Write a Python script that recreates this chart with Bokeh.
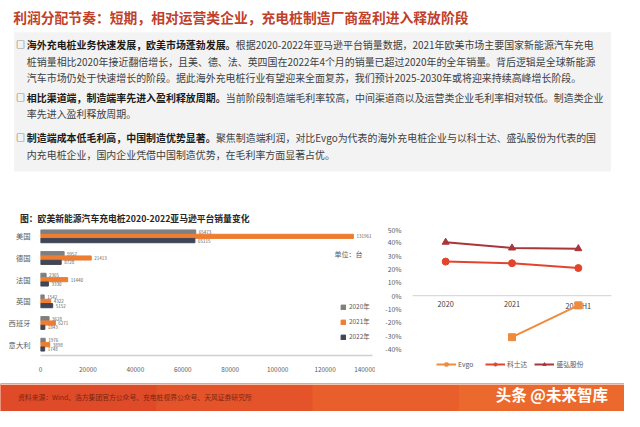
from bokeh.plotting import figure
from bokeh.models import (Range1d, FactorRange, ColumnDataSource, LabelSet, Legend,
                          LegendItem, Span, NumeralTickFormatter, FixedTicker)
from bokeh.layouts import column, row
from bokeh.transform import dodge
from bokeh.core.properties import value
from bokeh.embed import file_html
from bokeh.resources import INLINE

FONT = "Noto Sans CJK SC"

# ---------------- data ----------------
countries = ["美国", "德国", "法国", "英国", "西班牙", "意大利"]
sales_2020 = [65473, 9957, 2365, 1542, 3628, 1976]
sales_2021 = [131961, 21413, 11440, 4322, 6271, 3898]
sales_2022 = [65115, 8728, 3330, 5152, 1843, 1748]
year_labels = ["2020年", "2021年", "2022年"]
sales_ticks = [0, 20000, 40000, 60000, 80000, 100000, 120000, 140000]

periods = ["2020", "2021", "2022H1"]
evgo = [float("nan"), -0.31, -0.072]
kstar = [0.255, 0.243, 0.207]
sinexcel = [0.400, 0.357, 0.352]
pct_ticks = [-0.4, -0.3, -0.2, -0.1, 0.0, 0.1, 0.2, 0.3, 0.4, 0.5]
line_names = ["Evgo", "科士达", "盛弘股份"]

title_text = "利润分配节奏：短期，相对运营类企业，充电桩制造厂商盈利进入释放阶段"
bullets = [
    ("海外充电桩业务快速发展，欧美市场蓬勃发展。",
     "根据2020-2022年亚马逊平台销量数据，2021年欧美市场主要国家新能源汽车充电",
     ["桩销量相比2020年接近翻倍增长，且美、德、法、英四国在2022年4个月的销量已超过2020年的全年销量。背后逻辑是全球新能源",
      "汽车市场仍处于快速增长的阶段。据此海外充电桩行业有望迎来全面复苏，我们预计2025-2030年或将迎来持续高峰增长阶段。"]),
    ("相比渠道端，制造端率先进入盈利释放周期。",
     "当前阶段制造端毛利率较高，中间渠道商以及运营类企业毛利率相对较低。制造类企业",
     ["率先进入盈利释放周期。"]),
    ("制造端成本低毛利高，中国制造优势显著。",
     "聚焦制造端利润，对比Evgo为代表的海外充电桩企业与以科士达、盛弘股份为代表的国",
     ["内充电桩企业，国内企业凭借中国制造优势，在毛利率方面显著占优。"]),
]
chart_title = "图：欧美新能源汽车充电桩2020-2022亚马逊平台销量变化"
source_text = "资料来源：Wind、浩方集团官方公众号、充电桩视界公众号、天风证券研究所"
watermark = "头条 @未来智库"

GRAY, ORANGE, DARK = "#7F7F7F", "#ED7D31", "#404656"
C_EVGO, C_KSTAR, C_SINEX = "#EF8B3C", "#E2452C", "#A8363A"
TXT = "#595959"

SX = 624 / 640.0

# ---------------- header ----------------
hdr = figure(width=624, height=224, x_range=Range1d(0, 640), y_range=Range1d(233, 0),
             x_axis_type=None, y_axis_type=None, output_backend="svg",
             toolbar_location=None, min_border=0)
hdr.grid.visible = False
hdr.outline_line_color = None

hdr.text(x=[13], y=[17], text=[title_text], text_font=value(FONT), text_font_size="13.8px",
         text_font_style="bold", text_color="#C0402A", text_baseline="middle")
hdr.quad(left=[14], right=[626], top=[33], bottom=[178], fill_color="#F3F3F3", line_color=None)

FS = 9.95
y = 46
for i, (bold, reg, cont) in enumerate(bullets):
    hdr.text(x=[16], y=[y], text=["□"], text_font=value(FONT), text_font_size="9px",
             text_color="#262626", text_baseline="middle")
    hdr.text(x=[27], y=[y], text=[bold], text_font=value(FONT), text_font_size=f"{FS}px",
             text_font_style="bold", text_color="#1A1A1A", text_baseline="middle")
    hdr.text(x=[27 + len(bold) * FS / SX], y=[y], text=[reg], text_font=value(FONT),
             text_font_size=f"{FS}px", text_color="#404040", text_baseline="middle")
    for c in cont:
        y += 17
        hdr.text(x=[27], y=[y], text=[c], text_font=value(FONT), text_font_size=f"{FS}px",
                 text_color="#404040", text_baseline="middle")
    y += 21 if i == 0 else 25

hdr.text(x=[20], y=[227], text=[chart_title], text_font=value(FONT), text_font_size="8.8px",
         text_font_style="bold", text_color="#262626", text_baseline="middle")

# ---------------- bar chart ----------------
bar = figure(width=375, height=159, y_range=FactorRange(*countries[::-1]),
             x_range=Range1d(0, 140000), output_backend="svg", toolbar_location=None,
             min_border_left=40, min_border_right=3, min_border_top=1, min_border_bottom=28)
bar.grid.visible = False
bar.outline_line_color = None

src = ColumnDataSource(dict(country=countries, a=sales_2020, b=sales_2021, c=sales_2022,
                            la=[str(v) for v in sales_2020], lb=[str(v) for v in sales_2021],
                            lc=[str(v) for v in sales_2022]))
for field, lab, off, col, name in [("a", "la", 0.2, GRAY, year_labels[0]),
                                    ("b", "lb", 0.0, ORANGE, year_labels[1]),
                                    ("c", "lc", -0.2, DARK, year_labels[2])]:
    bar.hbar(y=dodge("country", off, range=bar.y_range), right=field, height=0.19,
             color=col, source=src, legend_label=name)
    bar.add_layout(LabelSet(x=field, y=dodge("country", off, range=bar.y_range), text=lab,
                            source=src, x_offset=3, text_baseline="middle",
                            text_font_size="4.5px", text_color=TXT, text_font=value(FONT)))

bar.xaxis.ticker = FixedTicker(ticks=sales_ticks)
bar.xaxis.formatter = NumeralTickFormatter(format="0")
bar.xaxis.axis_line_color = "#D0D0D0"
bar.xaxis.axis_line_width = 1.5
bar.xaxis.major_tick_line_color = None
bar.xaxis.minor_tick_line_color = None
bar.xaxis.major_label_text_font_size = "6.4px"
bar.xaxis.major_label_text_color = TXT
bar.xaxis.major_label_text_font = FONT
bar.xaxis.major_label_standoff = 5
bar.yaxis.axis_line_color = None
bar.yaxis.major_tick_line_color = None
bar.yaxis.minor_tick_line_color = None
bar.yaxis.major_label_text_font_size = "7.3px"
bar.yaxis.major_label_text_color = TXT
bar.yaxis.major_label_text_font = FONT
bar.yaxis.major_label_standoff = 4

bar.legend.location = (300, 14)
bar.legend.orientation = "vertical"
bar.legend.background_fill_alpha = 0
bar.legend.border_line_color = None
bar.legend.glyph_width = 6
bar.legend.glyph_height = 6
bar.legend.label_height = 8
bar.legend.spacing = 6
bar.legend.padding = 0
bar.legend.margin = 0
bar.legend.label_standoff = 3
bar.legend.label_text_font_size = "6.4px"
bar.legend.label_text_color = TXT
bar.legend.label_text_font = FONT

unit_src = ColumnDataSource(dict(x=[124000], y=["德国"], t=["单位：台"]))
bar.add_layout(LabelSet(x="x", y=dodge("y", 0.2, range=bar.y_range), text="t", source=unit_src,
                        text_baseline="middle", text_font_size="7px", text_color=TXT,
                        text_font=value(FONT)))

# ---------------- line chart ----------------
ln = figure(width=249, height=159, x_range=FactorRange(*periods, range_padding=0),
            y_range=Range1d(-0.559, 0.51), x_axis_location=None, output_backend="svg",
            toolbar_location=None, min_border_left=37, min_border_right=13,
            min_border_top=3, min_border_bottom=13)
ln.grid.visible = False
ln.outline_line_color = None
ln.yaxis.ticker = FixedTicker(ticks=pct_ticks)
ln.yaxis.formatter = NumeralTickFormatter(format="0%")
ln.yaxis.axis_line_color = None
ln.yaxis.major_tick_line_color = None
ln.yaxis.minor_tick_line_color = None
ln.yaxis.major_label_text_font_size = "6.8px"
ln.yaxis.major_label_text_color = TXT
ln.yaxis.major_label_text_font = FONT
ln.yaxis.major_label_standoff = 5
ln.add_layout(Span(location=0, dimension="width", line_color="#D9D9D9", line_width=1.2))

ln.text(x=periods, y=[0, 0, 0], text=periods, y_offset=5, text_baseline="top",
        text_align="center", text_font=value(FONT), text_font_size="7.3px", text_color="#404040")

items = []
for vals, col, mk, name in [(evgo, C_EVGO, "square", line_names[0]),
                            (kstar, C_KSTAR, "circle", line_names[1]),
                            (sinexcel, C_SINEX, "triangle", line_names[2])]:
    r1 = ln.line(periods, vals, line_color=col, line_width=2)
    r2 = ln.scatter(periods, vals, marker=mk, size=7, fill_color=col, line_color=col)
    items.append(LegendItem(label=name, renderers=[r1, r2]))

leg = Legend(items=items, orientation="horizontal", location=(24, 1),
             glyph_width=20, glyph_height=8, label_height=8, label_standoff=2, spacing=7,
             padding=0, margin=0, border_line_color=None, background_fill_alpha=0,
             label_text_font_size="6.8px", label_text_color=TXT, label_text_font=FONT)
ln.add_layout(leg)

# ---------------- footer ----------------
ft = figure(width=624, height=28, x_range=Range1d(0, 640), y_range=Range1d(427, 398),
            x_axis_type=None, y_axis_type=None, output_backend="svg",
            toolbar_location=None, min_border=0, background_fill_color="#E6562B",
            border_fill_color="#E6562B")
ft.grid.visible = False
ft.outline_line_color = None
band_lefts = [0, 160, 320, 470]
band_rights = [160, 320, 470, 640]
band_colors = ["#DF4A28", "#E4532A", "#E95F2B", "#EC692D"]
ft.quad(left=band_lefts, right=band_rights, top=[398] * 4, bottom=[427] * 4,
        fill_color=band_colors, line_color=None)
ft.quad(left=[0], right=[640], top=[398], bottom=[399.5], fill_color="#F2C4B0", line_color=None)
ft.text(x=[18], y=[412], text=[source_text], text_font=value(FONT), text_font_size="6.8px",
        text_color="#7A2812", text_baseline="middle")
ft.text(x=[508], y=[409], text=[watermark], text_font=value(FONT), text_font_size="15.5px",
        text_font_style="bold", text_color="#FFFFFF", text_baseline="middle")

layout = column(hdr, row(column(bar), column(ln)), ft)
open("out.html", "w").write(file_html(layout, INLINE))
